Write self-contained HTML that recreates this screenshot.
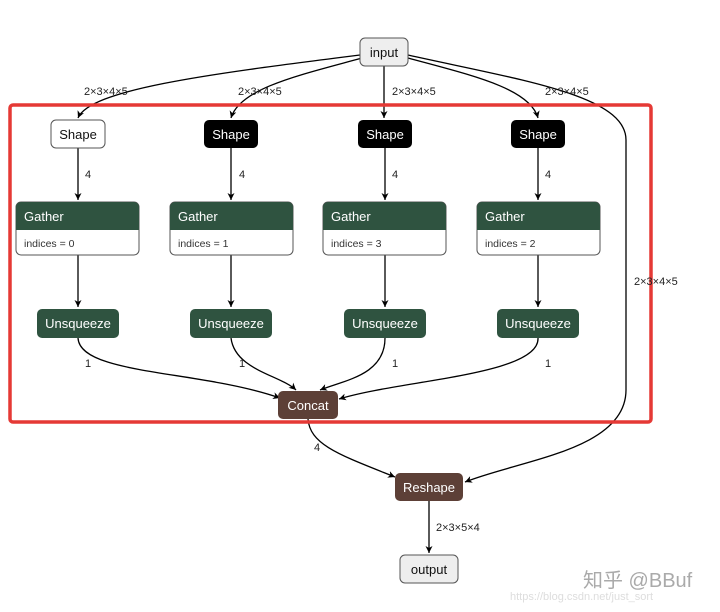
<!DOCTYPE html>
<html><head><style>
html,body{margin:0;padding:0;background:#fff;width:720px;height:612px;overflow:hidden}
svg text{font-family:"Liberation Sans","Noto Sans CJK SC",sans-serif}
</style></head><body>
<svg width="720" height="612" viewBox="0 0 720 612" xmlns="http://www.w3.org/2000/svg">
<defs>
<marker id="a" markerWidth="8" markerHeight="8" refX="7" refY="4" orient="auto" markerUnits="userSpaceOnUse">
<path d="M0,0.5 L7,4 L0,7.5 L2,4 Z" fill="#000"/></marker>
</defs>
<g fill="none" stroke="#000" stroke-width="1.3" marker-end="url(#a)">
<path d="M360,55 C200,75 90,90 78,118"/>
<path d="M362,58 C300,75 240,88 231,118"/>
<path d="M384,66 L384,118"/>
<path d="M408,58 C470,75 530,88 538,118"/>
<path d="M408,55 C520,80 626,95 626,140 L626,390 C626,450 520,460 465,482" />
<path d="M78,148 V200"/><path d="M231,148 V200"/><path d="M385,148 V200"/><path d="M538,148 V200"/>
<path d="M78,255 V307"/><path d="M231,255 V307"/><path d="M385,255 V307"/><path d="M538,255 V307"/>
<path d="M78,338 C80,375 200,370 280,398"/>
<path d="M231,338 C235,370 280,375 296,390"/>
<path d="M385,338 C385,375 345,380 320,390"/>
<path d="M538,338 C540,375 400,380 339,399"/>
<path d="M308,419 C310,445 340,455 395,477"/>
<path d="M429,501 V553"/>
</g>
<rect x="10" y="105" width="641" height="317" rx="3" fill="none" stroke="#e53935" stroke-width="3.5"/>
<g font-size="11" fill="#222">
<text x="84" y="95">2×3×4×5</text><text x="238" y="95">2×3×4×5</text>
<text x="392" y="95">2×3×4×5</text><text x="545" y="95">2×3×4×5</text>
<text x="85" y="178">4</text><text x="239" y="178">4</text><text x="392" y="178">4</text><text x="545" y="178">4</text>
<text x="85" y="367">1</text><text x="239" y="367">1</text><text x="392" y="367">1</text><text x="545" y="367">1</text>
<text x="634" y="285">2×3×4×5</text>
<text x="314" y="451">4</text>
<text x="436" y="531">2×3×5×4</text>
</g>
<g font-size="13" text-anchor="middle">
<rect x="360" y="38" width="48" height="28" rx="5" fill="#eee" stroke="#555"/><text x="384" y="57" fill="#111">input</text>
<rect x="51" y="120" width="54" height="28" rx="5" fill="#fff" stroke="#555"/><text x="78" y="139" fill="#111">Shape</text>
<rect x="204" y="120" width="54" height="28" rx="5" fill="#000"/><text x="231" y="139" fill="#fff">Shape</text>
<rect x="358" y="120" width="54" height="28" rx="5" fill="#000"/><text x="385" y="139" fill="#fff">Shape</text>
<rect x="511" y="120" width="54" height="28" rx="5" fill="#000"/><text x="538" y="139" fill="#fff">Shape</text>
</g>
<g font-size="13">
<g>
<rect x="16" y="202" width="123" height="53" rx="5" fill="#fff" stroke="#555"/>
<path d="M16,230 V207 a5,5 0 0 1 5,-5 H134 a5,5 0 0 1 5,5 V230 Z" fill="#2f5340"/>
<text x="24" y="221" fill="#fff">Gather</text><text x="24" y="247" font-size="10.5" fill="#333">indices = 0</text>
</g>
<g>
<rect x="170" y="202" width="123" height="53" rx="5" fill="#fff" stroke="#555"/>
<path d="M170,230 V207 a5,5 0 0 1 5,-5 H288 a5,5 0 0 1 5,5 V230 Z" fill="#2f5340"/>
<text x="178" y="221" fill="#fff">Gather</text><text x="178" y="247" font-size="10.5" fill="#333">indices = 1</text>
</g>
<g>
<rect x="323" y="202" width="123" height="53" rx="5" fill="#fff" stroke="#555"/>
<path d="M323,230 V207 a5,5 0 0 1 5,-5 H441 a5,5 0 0 1 5,5 V230 Z" fill="#2f5340"/>
<text x="331" y="221" fill="#fff">Gather</text><text x="331" y="247" font-size="10.5" fill="#333">indices = 3</text>
</g>
<g>
<rect x="477" y="202" width="123" height="53" rx="5" fill="#fff" stroke="#555"/>
<path d="M477,230 V207 a5,5 0 0 1 5,-5 H595 a5,5 0 0 1 5,5 V230 Z" fill="#2f5340"/>
<text x="485" y="221" fill="#fff">Gather</text><text x="485" y="247" font-size="10.5" fill="#333">indices = 2</text>
</g>
</g>
<g font-size="13" text-anchor="middle" fill="#fff">
<rect x="37" y="309" width="82" height="29" rx="5" fill="#2f5340"/><text x="78" y="328">Unsqueeze</text>
<rect x="190" y="309" width="82" height="29" rx="5" fill="#2f5340"/><text x="231" y="328">Unsqueeze</text>
<rect x="344" y="309" width="82" height="29" rx="5" fill="#2f5340"/><text x="385" y="328">Unsqueeze</text>
<rect x="497" y="309" width="82" height="29" rx="5" fill="#2f5340"/><text x="538" y="328">Unsqueeze</text>
<rect x="278" y="391" width="60" height="28" rx="5" fill="#5d4037"/><text x="308" y="410">Concat</text>
<rect x="395" y="473" width="68" height="28" rx="5" fill="#5d4037"/><text x="429" y="492">Reshape</text>
<rect x="400" y="555" width="58" height="28" rx="5" fill="#eee" stroke="#555"/><text x="429" y="574" fill="#111">output</text>
</g>
<text x="583" y="587" font-size="20" fill="#aaa">知乎 @BBuf</text>
<text x="510" y="600" font-size="11" fill="#ddd">https://blog.csdn.net/just_sort</text>
</svg>
</body></html>
